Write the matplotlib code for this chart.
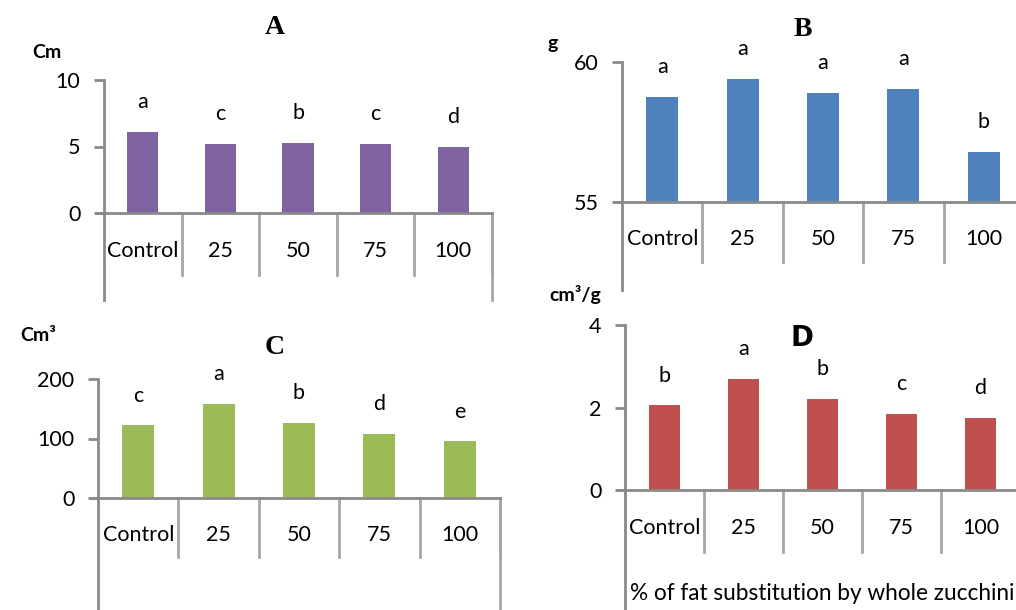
import matplotlib.pyplot as plt
from matplotlib.lines import Line2D

# Dane
categories = ['Control', '25', '50', '75', '100']

length_cm = [6.1, 5.2, 5.3, 5.2, 4.95]
length_letters = ['a', 'c', 'b', 'c', 'd']

weight_g = [58.75, 59.4, 58.9, 59.05, 56.8]
weight_letters = ['a', 'a', 'a', 'a', 'b']

volume_cm3 = [122, 158, 126, 108, 95]
volume_letters = ['c', 'a', 'b', 'd', 'e']

spec_volume = [2.05, 2.7, 2.2, 1.85, 1.75]
spec_letters = ['b', 'a', 'b', 'c', 'd']

W, H = 1016, 610
FONT = 'Lato'
AXIS_COLOR = '#8a8a8a'
SEP_COLOR = '#a6a6a6'

fig = plt.figure(figsize=(W / 100, H / 100), dpi=100)


# Panel rysowany w pikselach obrazka (x w prawo, y w dol)
def panel(left, right, top, base, sep_bottom, frame_bottom, right_frame,
          values, letters, ylim, yticks, color):
    ax = fig.add_axes([left / W, 1 - base / H, (right - left) / W, (base - top) / H])
    x = range(len(categories))
    ax.bar(x, [v - ylim[0] for v in values], width=0.4, bottom=ylim[0], color=color, zorder=2)
    ax.set_xlim(-0.5, len(categories) - 0.5)
    ax.set_ylim(*ylim)
    ax.set_yticks(yticks)
    ax.set_yticklabels([str(t) for t in yticks], fontsize=15.5, family=FONT)
    ax.set_xticks([])
    for s in ['top', 'right']:
        ax.spines[s].set_visible(False)
    for s in ['left', 'bottom']:
        ax.spines[s].set_color(AXIS_COLOR)
        ax.spines[s].set_linewidth(2)
    ax.tick_params(axis='y', length=7, width=2, color=AXIS_COLOR, pad=10)
    ax.patch.set_alpha(0)

    h = base - top
    # litery istotnosci nad slupkami
    for i, (v, lt) in enumerate(zip(values, letters)):
        ax.annotate(lt, (i, v), xytext=(0, 21.5), textcoords='offset points',
                    ha='center', va='center', fontsize=15.5, family=FONT)

    # tabelka kategorii pod osia
    yb = -(sep_bottom - base) / h
    for k in range(1, len(categories) + 1):
        xs = k - 0.5
        ax.add_line(Line2D([xs, xs], [0, yb], transform=ax.get_xaxis_transform(),
                           color=SEP_COLOR, lw=2, clip_on=False))
    ax.plot([-0.5 - 0.09, -0.5], [0, 0], transform=ax.get_xaxis_transform(),
            color=AXIS_COLOR, lw=2, clip_on=False)
    yf = -(frame_bottom - base) / h
    ax.add_line(Line2D([-0.5, -0.5], [0, yf], transform=ax.get_xaxis_transform(),
                       color=AXIS_COLOR, lw=2, clip_on=False))
    if right_frame:
        xr = len(categories) - 0.5
        ax.add_line(Line2D([xr, xr], [0, yf], transform=ax.get_xaxis_transform(),
                           color=SEP_COLOR, lw=2, clip_on=False))
    ylab = -((sep_bottom - base) * 0.62) / h
    for i, c in enumerate(categories):
        ax.text(i, ylab, c, transform=ax.get_xaxis_transform(), ha='center', va='center',
                fontsize=15.5, family=FONT)
    return ax


panel(104, 492, 80, 213, 275, 300, True, length_cm, length_letters,
      (0, 10), [0, 5, 10], '#8064A2')
panel(622, 1024, 62, 202, 262, 290, False, weight_g, weight_letters,
      (55, 60), [55, 60], '#4F81BD')
panel(98, 500, 379, 498, 557, 610, True, volume_cm3, volume_letters,
      (0, 200), [0, 100, 200], '#9BBB59')
panel(625, 1020, 325, 490, 552, 610, False, spec_volume, spec_letters,
      (0, 4), [0, 2, 4], '#C0504D')

# Tytuly paneli
for lab, px, py, fam in [('A', 275, 27, 'Liberation Serif'), ('B', 803, 30, 'Liberation Serif'),
                         ('C', 275, 347, 'Liberation Serif'), ('D', 802, 338, 'DejaVu Sans')]:
    fig.text(px / W, 1 - py / H, lab, ha='center', va='center', fontsize=20,
             fontweight='bold', family=fam)

# Jednostki
for lab, px, py in [('Cm', 47, 53), ('g', 553, 43), ('Cm³', 38, 335), ('cm³/g', 575, 295)]:
    fig.text(px / W, 1 - py / H, lab, ha='center', va='center', fontsize=14,
             fontweight='bold', family=FONT)

fig.text(630 / W, 1 - 593 / H, '% of fat substitution by whole zucchini', ha='left',
         va='center', fontsize=16.3, family=FONT)

fig.savefig('out.png', dpi=100)
